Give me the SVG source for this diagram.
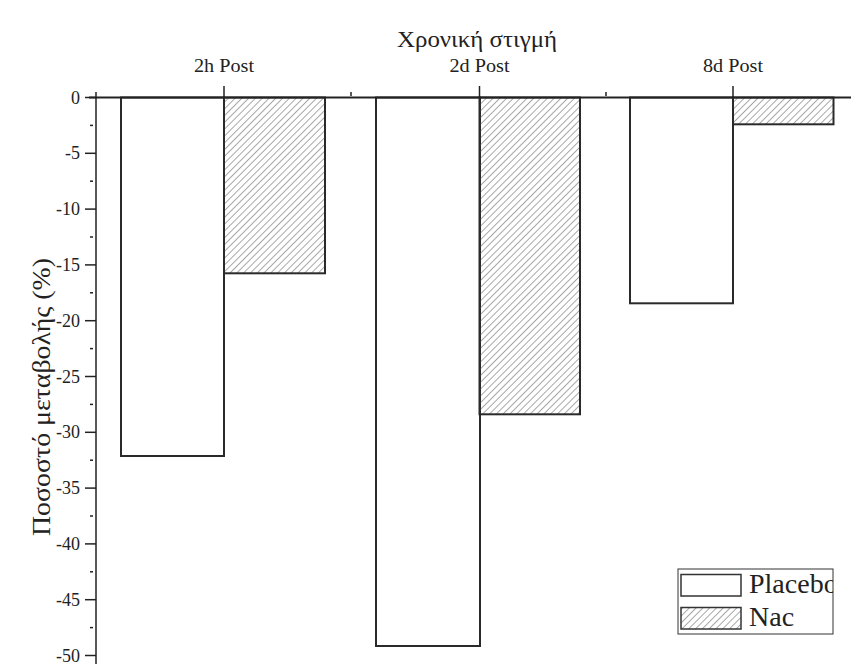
<svg xmlns="http://www.w3.org/2000/svg" width="851" height="664" viewBox="0 0 851 664">
<defs>
<pattern id="hatch" patternUnits="userSpaceOnUse" width="4.8" height="4.8" patternTransform="rotate(45)">
<line x1="0" y1="0" x2="0" y2="4.8" stroke="#606060" stroke-width="1.1"/>
</pattern>
<clipPath id="legclip"><rect x="678" y="569" width="155" height="65"/></clipPath>
</defs>
<style>
.t{font-family:"Liberation Serif","DejaVu Serif",serif;fill:#222}
.tick{font-size:18px;text-anchor:end}
.cat{font-size:18px;text-anchor:middle}
.bar{stroke:#2a2a2a;stroke-width:2}
.plc{fill:#fff}
.nac{fill:url(#hatch)}
.ax{stroke:#222;stroke-width:1.5;fill:none}
</style>
<rect width="851" height="664" fill="#fff"/>
<text class="t" x="477" y="47" font-size="24" text-anchor="middle" textLength="160" lengthAdjust="spacingAndGlyphs">Χρονική στιγμή</text>
<g id="bars">
<g id="p2h"><rect class="bar plc" x="121" y="97.5" width="103" height="358.5"/></g>
<g id="n2h"><rect class="bar nac" x="224" y="97.5" width="101" height="175.8"/></g>
<g id="p2d"><rect class="bar plc" x="376" y="97.5" width="104" height="548.5"/></g>
<g id="n2d"><rect class="bar nac" x="479.5" y="97.5" width="100.5" height="316.8"/></g>
<g id="p8d"><rect class="bar plc" x="630" y="97.5" width="103" height="205.8"/></g>
<g id="n8d"><rect class="bar nac" x="733" y="97.5" width="100.5" height="26.8"/></g>
</g>
<g id="axes">
<line x1="89" y1="97.5" x2="851" y2="97.5" stroke="#222" stroke-width="2"/>
<line class="ax" x1="96" y1="92" x2="96" y2="664"/>
<g stroke="#222" stroke-width="1.5">
<line x1="224" y1="86" x2="224" y2="97.5"/>
<line x1="479.5" y1="86" x2="479.5" y2="97.5"/>
<line x1="733" y1="86" x2="733" y2="97.5"/>
<line x1="351" y1="92" x2="351" y2="96"/>
<line x1="606" y1="92" x2="606" y2="96"/>
<line x1="85" y1="97.5" x2="96" y2="97.5"/>
<line x1="85" y1="153.3" x2="96" y2="153.3"/>
<line x1="85" y1="209.1" x2="96" y2="209.1"/>
<line x1="85" y1="264.9" x2="96" y2="264.9"/>
<line x1="85" y1="320.7" x2="96" y2="320.7"/>
<line x1="85" y1="376.5" x2="96" y2="376.5"/>
<line x1="85" y1="432.3" x2="96" y2="432.3"/>
<line x1="85" y1="488.1" x2="96" y2="488.1"/>
<line x1="85" y1="543.9" x2="96" y2="543.9"/>
<line x1="85" y1="599.7" x2="96" y2="599.7"/>
<line x1="85" y1="655.5" x2="96" y2="655.5"/>
<line x1="90" y1="125.4" x2="93" y2="125.4"/>
<line x1="90" y1="181.2" x2="93" y2="181.2"/>
<line x1="90" y1="237" x2="93" y2="237"/>
<line x1="90" y1="292.8" x2="93" y2="292.8"/>
<line x1="90" y1="348.6" x2="93" y2="348.6"/>
<line x1="90" y1="404.4" x2="93" y2="404.4"/>
<line x1="90" y1="460.2" x2="93" y2="460.2"/>
<line x1="90" y1="516" x2="93" y2="516"/>
<line x1="90" y1="571.8" x2="93" y2="571.8"/>
<line x1="90" y1="627.6" x2="93" y2="627.6"/>
</g>
<g class="t tick">
<text x="80" y="103.5">0</text>
<text x="80" y="159.3">-5</text>
<text x="80" y="215.1">-10</text>
<text x="80" y="270.9">-15</text>
<text x="80" y="326.7">-20</text>
<text x="80" y="382.5">-25</text>
<text x="80" y="438.3">-30</text>
<text x="80" y="494.1">-35</text>
<text x="80" y="549.9">-40</text>
<text x="80" y="605.7">-45</text>
<text x="80" y="661.5">-50</text>
</g>
<g class="t cat">
<text x="224" y="72" textLength="60" lengthAdjust="spacingAndGlyphs">2h Post</text>
<text x="479.5" y="72" textLength="60" lengthAdjust="spacingAndGlyphs">2d Post</text>
<text x="733" y="72" textLength="60" lengthAdjust="spacingAndGlyphs">8d Post</text>
</g>
<text class="t" transform="translate(50,397) rotate(-90)" font-size="26" text-anchor="middle" textLength="278" lengthAdjust="spacingAndGlyphs">Ποσοστό μεταβολής (%)</text>
</g>
<g id="legend">
<rect x="678" y="569" width="155" height="65" fill="#fff" stroke="#333" stroke-width="1"/>
<rect x="681" y="574.5" width="60" height="21.5" fill="#fff" stroke="#333" stroke-width="1.5"/>
<rect x="681" y="607.5" width="60" height="21.5" fill="url(#hatch)" stroke="#333" stroke-width="1.5"/>
<g clip-path="url(#legclip)">
<text class="t" x="749" y="593" font-size="28">Placebo</text>
<text class="t" x="749" y="626" font-size="28">Nac</text>
</g>
</g>
</svg>
